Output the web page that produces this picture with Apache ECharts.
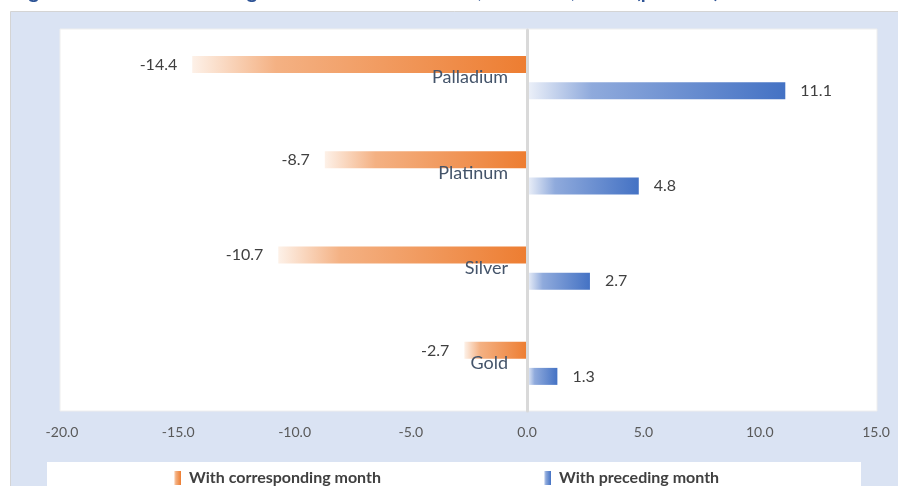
<!DOCTYPE html>
<html>
<head>
<meta charset="utf-8">
<title>Metal prices</title>
<script src="https://cdn.jsdelivr.net/npm/echarts@6/dist/echarts.min.js"></script>
<style>
  html, body { margin: 0; padding: 0; background: #fff; }
  #metalChart { width: 898px; height: 486px; }
</style>
</head>
<body>
<div id="metalChart"></div>
<script>
// chart data
var categories = ['Palladium', 'Platinum', 'Silver', 'Gold'];
var corrMonth = [-14.4, -8.7, -10.7, -2.7];
var precMonth = [11.1, 4.8, 2.7, 1.3];
var seriesNames = ['With corresponding month', 'With preceding month'];
var xMin = -20, xMax = 15, xStep = 5;
var titleText = 'Figure 6: Metal Price Change in International Market, Feb 2025, Y-o-Y (per cent)';

var fontFam = "Lato, 'Liberation Sans', sans-serif";
var gridLeft = 62, gridRight = 22;
var gridWidth = 898 - gridLeft - gridRight;
// category axis sits on the zero of the value axis
var zeroShift = (0 - xMin) / (xMax - xMin) * gridWidth;

function barFill(light, mid, dark) {
    return new echarts.graphic.LinearGradient(0, 0, 1, 0, [
        { offset: 0, color: light },
        { offset: 0.25, color: mid },
        { offset: 1, color: dark }
    ]);
}

var chart = echarts.init(document.querySelector('#metalChart'));

chart.setOption({
    animation: false,
    backgroundColor: '#fff',
    graphic: [
        { type: 'rect', z: -10, shape: { x: 10.5, y: 11.5, width: 890, height: 480 },
          style: { fill: '#dae3f3', stroke: '#d4d4d4', lineWidth: 1 } },
        { type: 'rect', z: -9, shape: { x: 60, y: 29, width: 817, height: 382 },
          style: { fill: '#fff', stroke: '#eeeeee', lineWidth: 1 } },
        { type: 'rect', z: -9, shape: { x: 47, y: 462, width: 814, height: 30 },
          style: { fill: '#fff' } },
        { type: 'text', z: -8, x: 12, y: 1.5,
          style: { text: titleText, fill: '#2f5597', font: "bold 20px " + fontFam, verticalAlign: 'bottom' } }
    ],
    grid: { left: gridLeft, right: gridRight, top: 30, bottom: 75, containLabel: false, outerBoundsMode: 'none' },
    legend: [
        { data: [seriesNames[0]], left: 169, top: 465, icon: 'rect', itemWidth: 7, itemHeight: 14,
          textStyle: { color: '#404040', fontSize: 16, fontWeight: 'bold', fontFamily: fontFam, padding: [0, 0, 0, 3] } },
        { data: [seriesNames[1]], left: 539, top: 465, icon: 'rect', itemWidth: 7, itemHeight: 14,
          textStyle: { color: '#404040', fontSize: 16, fontWeight: 'bold', fontFamily: fontFam, padding: [0, 0, 0, 3] } }
    ],
    xAxis: {
        type: 'value',
        min: xMin,
        max: xMax,
        interval: xStep,
        axisLine: { show: false },
        axisTick: { show: false },
        splitLine: { show: false },
        axisLabel: {
            color: '#595959',
            fontSize: 14,
            fontFamily: fontFam,
            margin: 14,
            formatter: function (v) { return v.toFixed(1); }
        }
    },
    yAxis: {
        type: 'category',
        data: categories,
        inverse: true,
        z: 10,
        offset: -zeroShift,
        axisLine: { show: true, onZero: false, lineStyle: { color: '#d9d9d9', width: 3 } },
        axisTick: { show: false },
        splitLine: { show: false },
        axisLabel: { color: '#44546a', fontSize: 18, fontFamily: fontFam, margin: 19 }
    },
    series: [
        {
            name: seriesNames[0],
            type: 'bar',
            data: corrMonth,
            barWidth: 17,
            barGap: '53%',
            itemStyle: { color: barFill('#fdf1e8', '#f4b183', '#ed7d31') },
            label: {
                show: true, position: 'left', distance: 15,
                color: '#404040', fontSize: 16, fontFamily: fontFam,
                formatter: function (p) { return p.value.toFixed(1); }
            }
        },
        {
            name: seriesNames[1],
            type: 'bar',
            data: precMonth,
            barWidth: 17,
            itemStyle: { color: barFill('#edf1f9', '#8faadc', '#4472c4') },
            label: {
                show: true, position: 'right', distance: 15,
                color: '#404040', fontSize: 16, fontFamily: fontFam,
                formatter: function (p) { return p.value.toFixed(1); }
            }
        }
    ]
});
</script>
</body>
</html>
